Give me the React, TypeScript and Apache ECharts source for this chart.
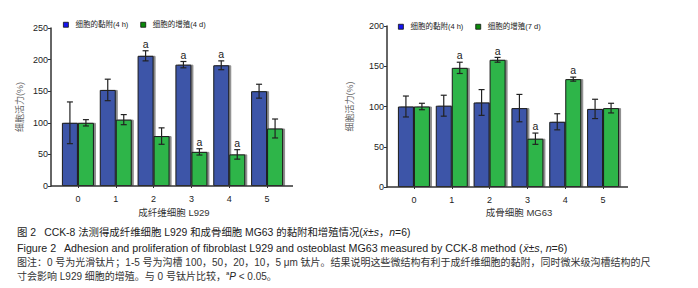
import React, { useEffect, useRef } from "react";
import * as echarts from "echarts";

const categories = ["0", "1", "2", "3", "4", "5"];

const l929AdhesionName = "细胞的黏附(4 h)";
const l929ProlifName = "细胞的增殖(4 d)";
const mg63AdhesionName = "细胞的黏附(4 h)";
const mg63ProlifName = "细胞的增殖(7 d)";

const l929Adhesion = [100, 152, 206, 192, 191, 150];
const l929AdhesionErr = [33, 17, 8, 5, 7, 11];
const l929AdhesionMark = ["", "", "a", "a", "a", ""];
const l929Prolif = [100, 105, 79, 54, 50, 91];
const l929ProlifErr = [5, 8, 13, 5, 7.5, 15];
const l929ProlifMark = ["", "", "", "a", "a", ""];

const mg63Adhesion = [100, 101, 105, 98, 81, 97];
const mg63AdhesionErr = [13, 13, 16, 17, 10, 12];
const mg63AdhesionMark = ["", "", "", "", "", ""];
const mg63Prolif = [100, 148, 158, 60, 134, 98];
const mg63ProlifErr = [4, 7, 3, 7, 2.5, 6];
const mg63ProlifMark = ["", "a", "a", "a", "a", ""];

const yAxisTitle = "细胞活力(%)";
const l929Title = "成纤维细胞 L929";
const mg63Title = "成骨细胞 MG63";

const FONT = "'Liberation Sans', 'Noto Sans CJK SC', sans-serif";
const BLUE = "#3C55A8";
const GREEN = "#2EB54A";

function barSeries(name: string, axis: number, values: number[], color: string) {
  return {
    type: "bar",
    name,
    xAxisIndex: axis,
    yAxisIndex: axis,
    data: values,
    barWidth: 16,
    barGap: "0%",
    itemStyle: {
      color,
      borderColor: "#1a1a1a",
      borderWidth: 1,
      shadowColor: "rgba(0,0,0,0.45)",
      shadowOffsetX: 2,
      shadowOffsetY: 0,
      shadowBlur: 0,
    },
    z: 2,
  };
}

function errorSeries(axis: number, values: number[], errs: number[], marks: string[], side: number) {
  return {
    type: "custom",
    xAxisIndex: axis,
    yAxisIndex: axis,
    data: values.map((v, i) => [i, v]),
    encode: { x: 0, y: 1 },
    z: 5,
    silent: true,
    renderItem: (params: any, api: any) => {
      const i = params.dataIndex;
      const c = api.coord([i, values[i]]);
      const x = c[0] + side * 8;
      const yt = api.coord([i, values[i] + errs[i]])[1];
      const yb = api.coord([i, values[i] - errs[i]])[1];
      const st = { stroke: "#222", lineWidth: 1.2 };
      const children: any[] = [
        { type: "line", shape: { x1: x, y1: yt, x2: x, y2: yb }, style: st },
        { type: "line", shape: { x1: x - 3, y1: yt, x2: x + 3, y2: yt }, style: st },
        { type: "line", shape: { x1: x - 3, y1: yb, x2: x + 3, y2: yb }, style: st },
      ];
      if (marks[i]) {
        children.push({
          type: "text",
          x,
          y: yt - 1.5,
          style: {
            text: marks[i],
            align: "center",
            verticalAlign: "bottom",
            fontSize: 10.5,
            fontFamily: FONT,
            fill: "#222",
          },
        });
      }
      return { type: "group", children };
    },
  };
}

function yAxisDef(grid: number, max: number, nameGap: number) {
  return {
    type: "value",
    gridIndex: grid,
    min: 0,
    max,
    interval: 50,
    offset: 8,
    name: yAxisTitle,
    nameLocation: "middle",
    nameGap,
    nameTextStyle: { fontSize: 9, fontFamily: FONT, color: "#666" },
    axisLine: { show: true, lineStyle: { color: "#333", width: 1.5 } },
    axisTick: { show: true, length: 3, lineStyle: { color: "#333" } },
    axisLabel: { fontSize: 9, fontFamily: FONT, color: "#222", margin: 3 },
    splitLine: { show: false },
  };
}

function xAxisDef(grid: number) {
  return {
    type: "category",
    gridIndex: grid,
    data: categories,
    axisLine: { show: false },
    axisTick: { show: true, alignWithLabel: true, length: 2, lineStyle: { color: "#333" } },
    axisLabel: { fontSize: 9, fontFamily: FONT, color: "#222", margin: 8 },
  };
}

function legendDef(left: number, top: number, names: string[]) {
  return {
    left,
    top,
    padding: 0,
    itemWidth: 5,
    itemHeight: 5,
    itemGap: 12,
    icon: "rect",
    data: [
      { name: names[0], itemStyle: { color: "#1414f0", borderColor: "#111", borderWidth: 0.8 } },
      { name: names[1], itemStyle: { color: "#0a8a0a", borderColor: "#111", borderWidth: 0.8 } },
    ],
    textStyle: { fontSize: 7.5, fontFamily: FONT, color: "#222", padding: [0, 0, 0, 2] },
    selectedMode: false,
  };
}

function textEl(x: number, y: number, text: string, extra: any = {}) {
  return {
    type: "text",
    x,
    y,
    style: {
      text,
      fontSize: 10,
      fontFamily: FONT,
      fill: "#222",
      verticalAlign: "middle",
      ...extra,
    },
  };
}

function richFor(size: number) {
  return {
    i: { fontStyle: "italic", fontSize: size, fontFamily: FONT, fill: "#222" },
    sup: { fontSize: 6, fontFamily: FONT, fill: "#222", verticalAlign: "top", lineHeight: 12 },
  };
}

export default function App() {
  const ref = useRef<HTMLDivElement>(null);
  useEffect(() => {
    if (!ref.current) return;
    const chart = echarts.init(ref.current, null, { renderer: "svg" });
    chart.setOption({
      animation: false,
      backgroundColor: "#fff",
      grid: [
        { left: 59, top: 28, width: 227, height: 158 },
        { left: 395, top: 26, width: 227, height: 161 },
      ],
      xAxis: [xAxisDef(0), xAxisDef(1)],
      yAxis: [yAxisDef(0, 250, 27), yAxisDef(1, 200, 33)],
      legend: [
        legendDef(63, 21, [l929AdhesionName, l929ProlifName]),
        legendDef(398, 23, [mg63AdhesionName, mg63ProlifName]),
      ],
      series: [
        barSeries(l929AdhesionName, 0, l929Adhesion, BLUE),
        barSeries(l929ProlifName, 0, l929Prolif, GREEN),
        errorSeries(0, l929Adhesion, l929AdhesionErr, l929AdhesionMark, -1),
        errorSeries(0, l929Prolif, l929ProlifErr, l929ProlifMark, 1),
        barSeries(mg63AdhesionName, 1, mg63Adhesion, BLUE),
        barSeries(mg63ProlifName, 1, mg63Prolif, GREEN),
        errorSeries(1, mg63Adhesion, mg63AdhesionErr, mg63AdhesionMark, -1),
        errorSeries(1, mg63Prolif, mg63ProlifErr, mg63ProlifMark, 1),
      ],
      graphic: [
        { type: "line", shape: { x1: 51, y1: 186, x2: 293, y2: 186 }, style: { stroke: "#333", lineWidth: 1.5 }, z: 10 },
        { type: "line", shape: { x1: 387, y1: 187, x2: 628, y2: 187 }, style: { stroke: "#333", lineWidth: 1.5 }, z: 10 },
        textEl(174, 212, l929Title, { align: "center", fontSize: 9.5, fill: "#333" }),
        textEl(519, 212, mg63Title, { align: "center", fontSize: 9.5, fill: "#333" }),
        textEl(17, 232, "图 2\u2002 CCK-8 法测得成纤维细胞 L929 和成骨细胞 MG63 的黏附和增殖情况({i|x̄}±{i|s}，{i|n}=6)", { rich: richFor(10.4), fontSize: 10.4 }),
        textEl(17, 248, "Figure 2\u2002 Adhesion and proliferation of fibroblast L929 and osteoblast MG63 measured by CCK-8 method ({i|x̄}±{i|s}, {i|n}=6)", { rich: richFor(10.7), fontSize: 10.7 }),
        textEl(17, 262, "图注：0 号为光滑钛片；1-5 号为沟槽 100，50，20，10，5 μm 钛片。结果说明这些微结构有利于成纤维细胞的黏附，同时微米级沟槽结构的尺", { fill: "#333" }),
        textEl(17, 276, "寸会影响 L929 细胞的增殖。与 0 号钛片比较，{sup|a}{i|P} < 0.05。", { rich: richFor(10), fill: "#333" }),
      ],
    });
    return () => chart.dispose();
  }, []);
  return (
    <div
      ref={ref}
      style={{ position: "fixed", left: 0, top: 0, width: 698, height: 288, background: "#fff" }}
    />
  );
}
